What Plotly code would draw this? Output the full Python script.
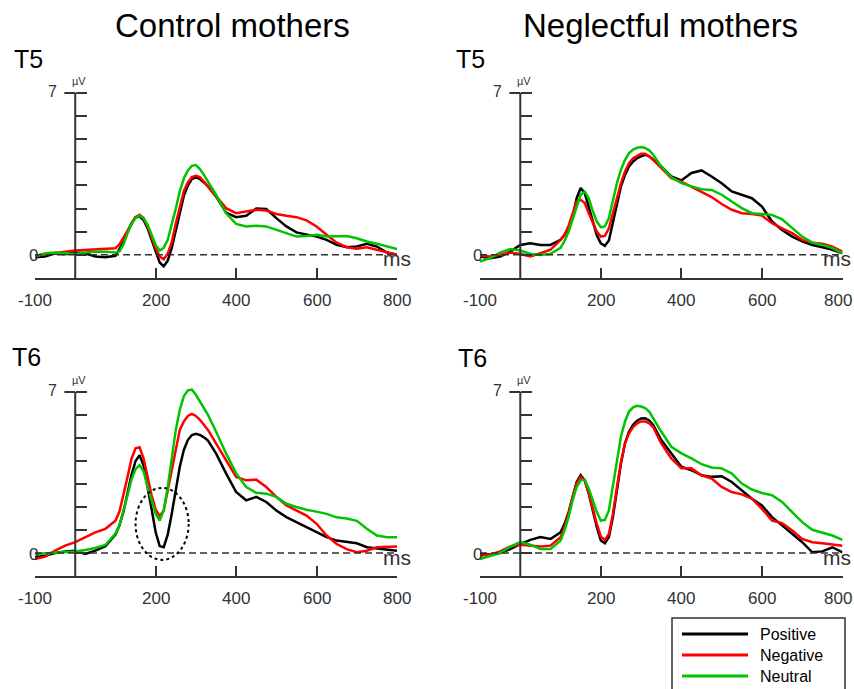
import plotly.graph_objects as go

W, H = 854, 689

# ---------------- data ----------------
time_ms = [-100, -75, -50, -25, 0, 25, 50, 75, 100,
           110, 120, 130, 140, 150, 160, 170, 180, 190, 200, 210, 220,
           230, 240, 250, 260, 270, 280, 290, 300, 310, 320, 330,
           350, 375, 400, 425, 450, 475, 500, 525, 550, 575, 600, 625,
           650, 675, 700, 725, 750, 775, 800]

# T5 - Control mothers
t5_ctrl_positive = [-0.10, -0.07, 0.07, 0.03, 0.10, 0.07, -0.07, -0.10, -0.04,
                    0.25, 0.55, 1.00, 1.37, 1.63, 1.66, 1.50, 1.15, 0.65, 0.14, -0.33, -0.50,
                    -0.25, 0.30, 1.10, 1.90, 2.55, 3.00, 3.28, 3.36, 3.28, 3.13, 2.96,
                    2.53, 1.83, 1.63, 1.69, 2.00, 1.98, 1.59, 1.23, 0.97, 0.87, 0.79, 0.65,
                    0.43, 0.33, 0.36, 0.48, 0.36, 0.10, 0.00]
t5_ctrl_negative = [-0.04, 0.03, 0.07, 0.14, 0.19, 0.22, 0.25, 0.25, 0.29,
                    0.45, 0.75, 1.05, 1.37, 1.63, 1.73, 1.59, 1.23, 0.72, 0.29, -0.07, -0.19,
                    0.05, 0.55, 1.35, 2.10, 2.75, 3.13, 3.36, 3.42, 3.36, 3.17, 2.96,
                    2.53, 2.02, 1.80, 1.88, 1.95, 1.92, 1.77, 1.69, 1.63, 1.49, 1.23, 0.87,
                    0.53, 0.33, 0.27, 0.33, 0.22, 0.10, 0.00]
t5_ctrl_neutral = [-0.07, 0.07, 0.10, 0.07, 0.04, 0.10, 0.14, 0.14, 0.10,
                   0.15, 0.45, 0.94, 1.34, 1.59, 1.69, 1.59, 1.30, 0.87, 0.43, 0.19, 0.30,
                   0.65, 1.30, 2.00, 2.75, 3.30, 3.65, 3.85, 3.88, 3.71, 3.46, 3.17,
                   2.60, 1.80, 1.34, 1.23, 1.26, 1.23, 1.08, 0.91, 0.79, 0.82, 0.87, 0.79,
                   0.82, 0.82, 0.72, 0.58, 0.48, 0.36, 0.25]

# T5 - Neglectful mothers
t5_negl_positive = [-0.07, -0.14, -0.07, 0.14, 0.43, 0.50, 0.43, 0.43, 0.65,
                    0.87, 1.15, 1.66, 2.45, 2.89, 2.67, 2.09, 1.52, 0.85, 0.50, 0.39, 0.62,
                    1.37, 2.24, 2.96, 3.46, 3.82, 4.04, 4.18, 4.26, 4.33, 4.26, 4.11,
                    3.82, 3.39, 3.22, 3.54, 3.65, 3.39, 3.10, 2.74, 2.60, 2.45, 2.09, 1.44,
                    1.08, 0.79, 0.58, 0.43, 0.33, 0.22, 0.07]
t5_negl_negative = [-0.04, -0.07, 0.00, 0.10, 0.04, -0.07, 0.07, 0.22, 0.65,
                    0.87, 1.26, 1.80, 2.31, 2.38, 2.24, 1.80, 1.37, 1.01, 0.79, 0.82, 1.15,
                    1.80, 2.53, 3.10, 3.61, 3.97, 4.18, 4.29, 4.37, 4.37, 4.26, 4.11,
                    3.75, 3.32, 3.17, 2.95, 2.75, 2.50, 2.20, 1.95, 1.80, 1.77, 1.70, 1.37,
                    1.15, 0.94, 0.65, 0.53, 0.48, 0.36, 0.14]
t5_negl_neutral = [-0.29, -0.14, 0.10, 0.25, 0.19, 0.04, 0.00, 0.05, 0.30,
                   0.60, 1.00, 1.55, 2.15, 2.60, 2.74, 2.45, 1.90, 1.44, 1.20, 1.23, 1.59,
                   2.38, 3.10, 3.68, 4.11, 4.40, 4.55, 4.63, 4.66, 4.62, 4.52, 4.33,
                   3.82, 3.36, 3.10, 2.96, 2.84, 2.81, 2.60, 2.31, 2.02, 1.80, 1.75, 1.73,
                   1.54, 1.15, 0.79, 0.53, 0.43, 0.29, 0.07]

# T6 - Control mothers
t6_ctrl_positive = [-0.19, -0.12, 0.00, 0.07, 0.10, -0.04, 0.10, 0.30, 0.80,
                    1.20, 1.80, 2.60, 3.40, 4.00, 4.25, 3.80, 2.90, 1.90, 0.90, 0.30, 0.25,
                    0.80, 1.71, 2.73, 3.75, 4.48, 4.91, 5.13, 5.18, 5.13, 5.03, 4.89,
                    4.33, 3.46, 2.65, 2.29, 2.44, 2.22, 1.85, 1.56, 1.34, 1.12, 0.90, 0.69,
                    0.54, 0.47, 0.42, 0.25, 0.20, 0.13, 0.10]
t6_ctrl_negative = [-0.26, -0.16, 0.10, 0.32, 0.47, 0.69, 0.90, 1.05, 1.40,
                    1.80, 2.50, 3.30, 4.10, 4.55, 4.60, 4.10, 3.30, 2.50, 1.90, 1.60, 1.85,
                    2.73, 3.75, 4.62, 5.35, 5.72, 5.96, 6.05, 5.96, 5.79, 5.57, 5.35,
                    4.77, 4.04, 3.31, 3.16, 3.19, 2.87, 2.44, 2.07, 1.85, 1.63, 1.27, 0.76,
                    0.39, 0.17, 0.03, 0.10, 0.25, 0.28, 0.28]
t6_ctrl_neutral = [-0.04, -0.01, 0.03, 0.03, 0.07, 0.13, 0.22, 0.35, 0.85,
                   1.20, 1.80, 2.50, 3.20, 3.65, 3.82, 3.55, 2.87, 2.29, 1.71, 1.41, 1.85,
                   2.87, 4.19, 5.35, 6.23, 6.81, 7.07, 7.10, 6.88, 6.59, 6.30, 6.01,
                   5.28, 4.33, 3.46, 2.87, 2.62, 2.58, 2.44, 2.14, 2.00, 1.88, 1.80, 1.70,
                   1.55, 1.50, 1.40, 1.05, 0.76, 0.69, 0.69]

# T6 - Neglectful mothers
t6_negl_positive = [-0.04, -0.07, 0.00, 0.17, 0.39, 0.57, 0.69, 0.61, 0.90,
                    1.27, 1.78, 2.44, 3.09, 3.38, 3.16, 2.58, 1.85, 1.12, 0.54, 0.42, 0.69,
                    1.56, 2.73, 3.89, 4.77, 5.28, 5.57, 5.75, 5.85, 5.86, 5.76, 5.57,
                    4.91, 4.33, 3.75, 3.60, 3.38, 3.31, 3.34, 3.09, 2.73, 2.36, 2.07, 1.56,
                    1.20, 0.83, 0.47, 0.03, 0.07, 0.25, 0.03]
t6_negl_negative = [-0.12, -0.07, 0.07, 0.28, 0.36, 0.32, 0.28, 0.32, 0.69,
                    1.12, 1.71, 2.44, 3.02, 3.31, 3.16, 2.61, 1.92, 1.27, 0.71, 0.57, 0.83,
                    1.71, 2.87, 3.97, 4.77, 5.20, 5.47, 5.64, 5.72, 5.72, 5.64, 5.47,
                    4.77, 4.11, 3.68, 3.68, 3.38, 3.24, 2.87, 2.65, 2.55, 2.36, 1.92, 1.41,
                    1.30, 0.98, 0.61, 0.47, 0.42, 0.36, 0.32]
t6_negl_neutral = [-0.26, -0.12, 0.00, 0.28, 0.47, 0.36, 0.17, 0.17, 0.54,
                   0.98, 1.56, 2.29, 2.87, 3.16, 3.19, 2.80, 2.29, 1.78, 1.41, 1.44, 1.85,
                   2.87, 4.04, 5.06, 5.72, 6.15, 6.33, 6.40, 6.37, 6.30, 6.15, 5.86,
                   5.28, 4.62, 4.33, 4.11, 3.86, 3.72, 3.68, 3.46, 3.02, 2.76, 2.61, 2.51,
                   2.22, 1.78, 1.34, 1.01, 0.90, 0.76, 0.57]

condition_names = ["Positive", "Negative", "Neutral"]
condition_colors = ["#000000", "#ff0000", "#00c400"]
group_titles = ["Control mothers", "Neglectful mothers"]
electrode_labels = ["T5", "T5", "T6", "T6"]
x_tick_values = [-100, 200, 400, 600, 800]
x_tick_labels = ["-100", "200", "400", "600", "800"]
y_tick_values = [0, 1, 2, 3, 4, 5, 6, 7]

panel_series = [
    [t5_ctrl_positive, t5_ctrl_negative, t5_ctrl_neutral],
    [t5_negl_positive, t5_negl_negative, t5_negl_neutral],
    [t6_ctrl_positive, t6_ctrl_negative, t6_ctrl_neutral],
    [t6_negl_positive, t6_negl_negative, t6_negl_neutral],
]

# ---------------- layout geometry ----------------
FONT = "Liberation Sans, Arial, sans-serif"
AX = "#333333"
X_RANGE = [-100, 800]
Y_RANGE = [-1, 7.25]

def fx(p):
    return p / W

def fy(p):
    return 1 - p / H

x_domains = [[fx(35), fx(397)], [fx(480), fx(842.5)]]
y_domains = [[fy(278), fy(87.2)], [fy(576), fy(386.25)]]

fig = go.Figure()
layout = dict(
    width=W, height=H, margin=dict(l=0, r=0, t=0, b=0, autoexpand=False),
    paper_bgcolor="white", plot_bgcolor="white", showlegend=False,
    font=dict(family=FONT, color=AX),
)
shapes = []
annotations = []

for i, series in enumerate(panel_series):
    n = i + 1
    sfx = "" if n == 1 else str(n)
    xa, ya = "x" + sfx, "y" + sfx
    col, row = i % 2, i // 2
    xd, yd = x_domains[col], y_domains[row]
    zero_pos = xd[0] + (xd[1] - xd[0]) * (0 - X_RANGE[0]) / (X_RANGE[1] - X_RANGE[0])

    for vals, name, color in zip(series, condition_names, condition_colors):
        fig.add_trace(go.Scatter(
            x=time_ms, y=vals, mode="lines", name=name,
            line=dict(color=color, width=2.5),
            xaxis=xa, yaxis=ya, hoverinfo="skip", showlegend=False,
        ))

    layout["xaxis" + sfx] = dict(
        domain=xd, range=X_RANGE, anchor=ya, showgrid=False, zeroline=False,
        showline=True, linecolor=AX, linewidth=2, automargin=False,
        ticks="inside", ticklen=10, tickwidth=2, tickcolor=AX,
        tickvals=x_tick_values, showticklabels=False, fixedrange=True,
    )
    layout["yaxis" + sfx] = dict(
        domain=yd, range=Y_RANGE, anchor="free", position=zero_pos,
        showgrid=False, zeroline=False, showline=False, automargin=False,
        ticks="inside", ticklen=11, tickwidth=2, tickcolor=AX,
        tickvals=y_tick_values, showticklabels=False, fixedrange=True,
    )

    # time tick labels (kept inside the page at the right edge)
    for tv, tl in zip(x_tick_values, x_tick_labels):
        at_edge = (col == 1 and tv == X_RANGE[1])
        annotations.append(dict(
            xref=xa, yref=ya, x=tv, y=-1, text=tl, showarrow=False,
            xanchor="right" if at_edge else "center", yanchor="middle",
            xshift=11 if at_edge else 0, yshift=-22,
            font=dict(size=17, color=AX)))

    # vertical axis line at 0 ms, from -1 to 7 uV
    shapes.append(dict(type="line", xref=xa, yref=ya, x0=0, x1=0, y0=-1, y1=7,
                       line=dict(color=AX, width=2)))
    # left half of the 7 uV tick
    shapes.append(dict(type="line", xref=xa, yref=ya, x0=-27, x1=0, y0=7, y1=7,
                       line=dict(color=AX, width=2)))
    # end ticks below the time axis
    for xv in (X_RANGE[0], X_RANGE[1]):
        shapes.append(dict(type="line", xref=xa, yref=ya, x0=xv, x1=xv, y0=-1, y1=-1.4,
                           line=dict(color=AX, width=2)))
    # dashed zero line
    shapes.append(dict(type="line", xref=xa, yref=ya, x0=X_RANGE[0], x1=X_RANGE[1],
                       y0=0, y1=0, line=dict(color=AX, width=1.5, dash="7px,4px")))

    ms_edge = (col == 1)
    annotations += [
        dict(xref=xa, yref=ya, x=0, y=7, text="\u00b5V", showarrow=False,
             xshift=4, yshift=12, font=dict(size=11, color=AX)),
        dict(xref=xa, yref=ya, x=0, y=7, text="7", showarrow=False,
             xshift=-23, yshift=1, font=dict(size=16, color=AX)),
        dict(xref=xa, yref=ya, x=X_RANGE[0], y=0, text="0", showarrow=False,
             xshift=-2, yshift=-1, font=dict(size=17, color=AX)),
        dict(xref=xa, yref=ya, x=X_RANGE[1], y=0, text="ms", showarrow=False,
             xanchor="right" if ms_edge else "center",
             xshift=10 if ms_edge else 0, yshift=-4, font=dict(size=21, color=AX)),
    ]

# dotted ellipse around the P200 dip (T6, control)
shapes.append(dict(type="circle", xref="x3", yref="y3", x0=150, x1=282, y0=-0.3, y1=2.83,
                   line=dict(color="#000000", width=2, dash="dot")))

# column titles
for t, xc in zip(group_titles, (232, 660)):
    annotations.append(dict(xref="paper", yref="paper", x=fx(xc), y=fy(26), text=t,
                            showarrow=False, xanchor="center", yanchor="middle",
                            font=dict(size=33, color="#000000")))

# electrode labels
for lab, (xc, yc) in zip(electrode_labels, [(28, 59), (471, 59), (26, 357), (473, 358)]):
    annotations.append(dict(xref="paper", yref="paper", x=fx(xc), y=fy(yc), text=lab,
                            showarrow=False, xanchor="center", yanchor="middle",
                            font=dict(size=25, color="#000000")))

# legend box
shapes.append(dict(type="rect", xref="paper", yref="paper", x0=fx(672), x1=fx(845),
                   y0=fy(700), y1=fy(618), line=dict(color=AX, width=1.5),
                   fillcolor="white", layer="above"))
for name, color, yc in zip(condition_names, condition_colors, (634, 655, 676)):
    shapes.append(dict(type="line", xref="paper", yref="paper", x0=fx(682), x1=fx(748),
                       y0=fy(yc), y1=fy(yc), line=dict(color=color, width=3)))
    annotations.append(dict(xref="paper", yref="paper", x=fx(758), y=fy(yc), text=name,
                            showarrow=False, xanchor="left", yanchor="middle",
                            font=dict(size=16, color="#000000")))

layout["shapes"] = shapes
layout["annotations"] = annotations
fig.update_layout(**layout)
fig.write_html("out.html")
